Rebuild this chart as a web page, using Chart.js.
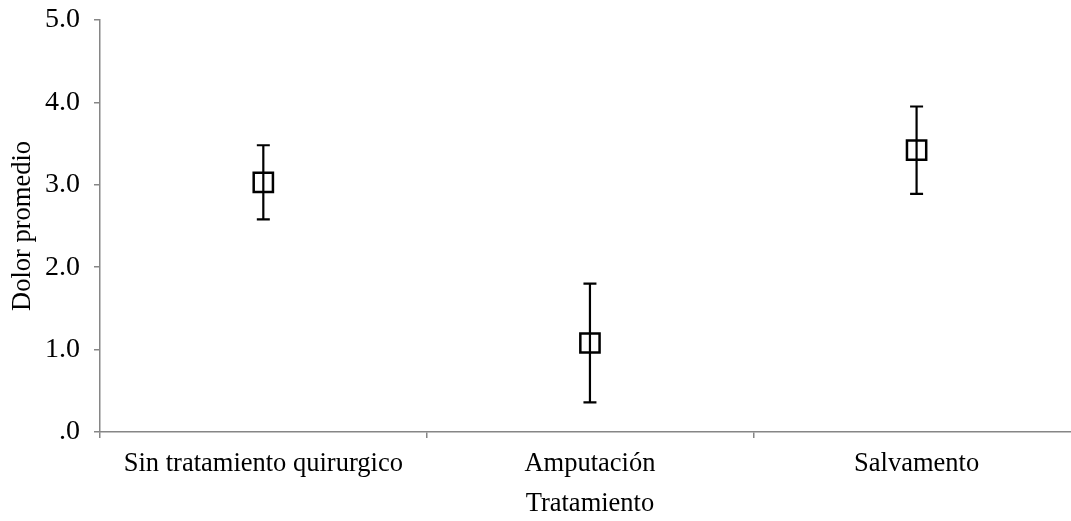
<!DOCTYPE html>
<html>
<head>
<meta charset="utf-8">
<script src="https://cdn.jsdelivr.net/npm/chart.js@4.4.1/dist/chart.umd.min.js"></script>
<style>
  html, body { margin: 0; padding: 0; background: #fff; overflow: hidden; }
  #wrap { position: relative; width: 1096px; height: 521px; }
</style>
</head>
<body>
<div id="wrap"><canvas id="c"></canvas></div>
<script>
// Treatment groups and their mean pain score with the error half-width
const categories = ['Sin tratamiento quirurgico', 'Amputación', 'Salvamento'];
const means = [3.03, 1.08, 3.42];
const errors = [0.45, 0.72, 0.53];
const yTicks = [0, 1, 2, 3, 4, 5];

const FONT = "'Liberation Serif', 'Times New Roman', serif";
const AXIS = '#868686';

// Vertical error bars with caps, drawn through the chart's scales
const errorBars = {
  id: 'errorBars',
  afterDatasetsDraw(chart) {
    const { ctx, scales } = chart;
    const x = scales.x, y = scales.y;
    ctx.save();
    ctx.strokeStyle = '#000';
    ctx.lineWidth = 2.2;
    const cap = 6.5;
    means.forEach((m, i) => {
      const px = x.getPixelForValue(i);
      const top = y.getPixelForValue(m + errors[i]);
      const bot = y.getPixelForValue(m - errors[i]);
      ctx.beginPath();
      ctx.moveTo(px, top); ctx.lineTo(px, bot);
      ctx.moveTo(px - cap, top); ctx.lineTo(px + cap, top);
      ctx.moveTo(px - cap, bot); ctx.lineTo(px + cap, bot);
      ctx.stroke();
    });
    ctx.restore();
  }
};

new Chart(document.getElementById('c'), {
  type: 'line',
  data: {
    labels: categories,
    datasets: [{
      data: means,
      showLine: false,
      pointStyle: 'rect',
      pointRadius: 13.6,
      pointHoverRadius: 13.6,
      pointBorderWidth: 2.5,
      pointBorderColor: '#000',
      pointBackgroundColor: 'rgba(0,0,0,0)'
    }]
  },
  options: {
    responsive: true,
    maintainAspectRatio: false,
    animation: false,
    events: [],
    layout: { padding: { top: 20, right: 0, left: 0, bottom: 0 } },
    plugins: { legend: { display: false }, tooltip: { enabled: false } },
    scales: {
      x: {
        offset: true,
        grid: { offset: true, drawOnChartArea: false, drawTicks: true, tickLength: 6, color: AXIS, lineWidth: 1.5 },
        border: { color: AXIS, width: 1.5 },
        ticks: { color: '#000', font: { family: FONT, size: 26.5 }, padding: 10, maxRotation: 0, autoSkip: false },
        title: { display: true, text: 'Tratamiento', color: '#000', font: { family: FONT, size: 26.5 }, padding: { top: 0, bottom: 1 } },
        afterFit(scale) {
          scale.height = 89;
          scale.paddingLeft = 0;
          scale.paddingRight = 0;
        }
      },
      y: {
        min: 0, max: 5,
        afterBuildTicks(scale) { scale.ticks = yTicks.map(v => ({ value: v })); },
        grid: { drawOnChartArea: false, drawTicks: true, tickLength: 6, color: AXIS, lineWidth: 1.5 },
        border: { color: AXIS, width: 1.5 },
        ticks: {
          color: '#000', font: { family: FONT, size: 28 }, padding: 14,
          callback: v => v === 0 ? '.0' : v.toFixed(1)
        },
        title: { display: true, text: 'Dolor promedio', color: '#000', font: { family: FONT, size: 26.5 }, padding: { top: 7, bottom: 0 } },
        afterFit(scale) {
          scale.width = 100;
          scale.paddingTop = 0;
          scale.paddingBottom = 0;
        }
      }
    }
  },
  plugins: [errorBars]
});
</script>
</body>
</html>
